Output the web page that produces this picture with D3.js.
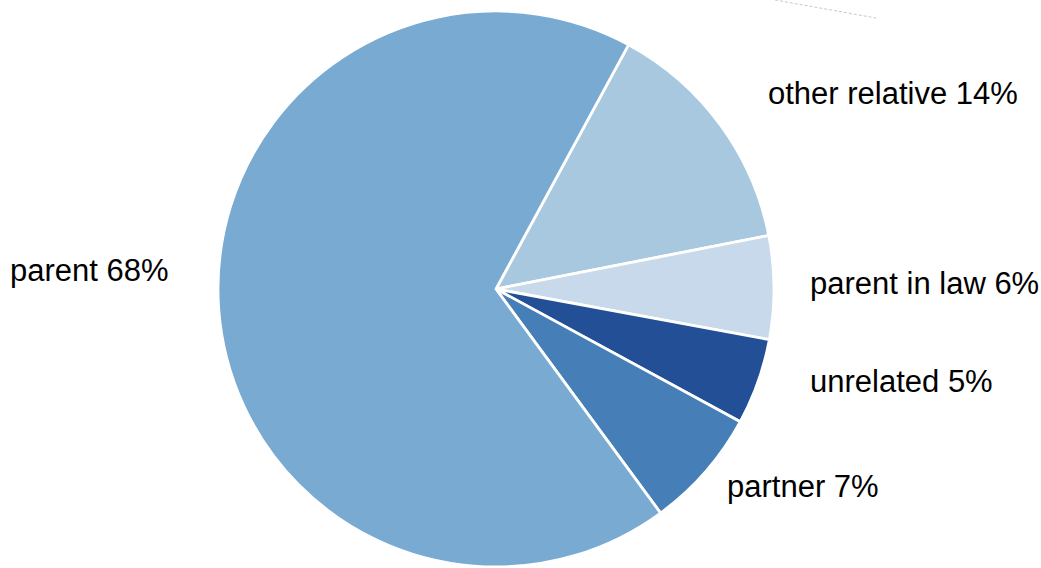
<!DOCTYPE html>
<html>
<head>
<meta charset="utf-8">
<script src="https://cdn.jsdelivr.net/npm/d3@7"></script>
<style>
  html, body { margin: 0; padding: 0; background: #ffffff; }
  svg { display: block; }
  text { font-family: "Liberation Sans", Arial, sans-serif; fill: #000; }
</style>
</head>
<body>
<svg id="chart" width="1041" height="568"></svg>
<script>
// Household relationship shares (percent), drawn clockwise from the upper right
const categories = ["other relative", "parent in law", "unrelated", "partner", "parent"];
const shares = [14, 6, 5, 7, 68];
const sliceColors = ["#a8c8df", "#c8d9eb", "#224f95", "#467fb7", "#79aad2"];
// Label anchor points (left edge, baseline) beside each slice
const labelX = [768, 810, 810, 727, 10];
const labelY = [104, 294, 392, 497, 281];

const svg = d3.select("#chart");
const cx = 496, cy = 289, radius = 278;

const data = categories.map((c, i) => ({ name: c, value: shares[i], color: sliceColors[i] }));

// Start angle puts the first slice's leading edge at about 28 degrees past 12 o'clock
const startDeg = 28.5;
const pie = d3.pie()
  .value(d => d.value)
  .sort(null)
  .startAngle(startDeg * Math.PI / 180)
  .endAngle((startDeg + 360) * Math.PI / 180);

const arc = d3.arc().innerRadius(0).outerRadius(radius);

const g = svg.append("g").attr("transform", `translate(${cx},${cy})`);

g.selectAll("path.slice")
  .data(pie(data))
  .join("path")
  .attr("class", "slice")
  .attr("d", arc)
  .attr("fill", d => d.data.color)
  .attr("stroke", "#ffffff")
  .attr("stroke-width", 2.8)
  .attr("stroke-linejoin", "round");

// Faint dashed leader stroke near the top right
svg.append("line")
  .attr("x1", 775).attr("y1", 0)
  .attr("x2", 876).attr("y2", 18)
  .attr("stroke", "#c8c8c8")
  .attr("stroke-width", 1)
  .attr("stroke-dasharray", "3,2");

svg.selectAll("text.label")
  .data(data)
  .join("text")
  .attr("class", "label")
  .attr("x", (d, i) => labelX[i])
  .attr("y", (d, i) => labelY[i])
  .attr("font-size", 31)
  .text(d => `${d.name} ${d.value}%`);
</script>
</body>
</html>
